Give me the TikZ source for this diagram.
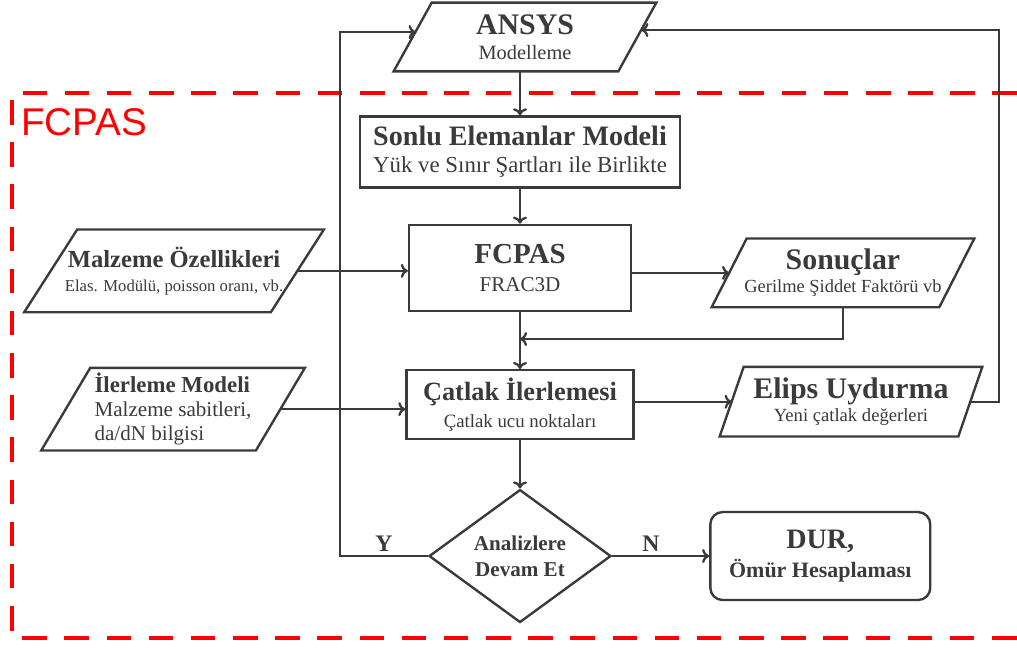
\documentclass[tikz,border=0pt]{standalone}
\usepackage{fontspec}
\setmainfont{Liberation Serif}
\newfontfamily\labelfont{Liberation Sans}
\usetikzlibrary{positioning, arrows.meta, shapes.geometric}
\usetikzlibrary{calc}

\definecolor{ink}{HTML}{3A3A3A}
\definecolor{dashred}{HTML}{FF0000}

\begin{document}
\begin{tikzpicture}[
    x=0.02cm, y=-0.02cm,
    box/.style={rectangle, draw=ink, line width=1.35pt, text=ink, align=center, inner sep=1pt},
    io/.style={rectangle, text=ink, align=center, inner sep=1pt},
    ioline/.style={draw=ink, line width=1.35pt, line join=miter},
    decision/.style={diamond, draw=ink, line width=1.35pt, text=ink, align=center, inner sep=0pt, font=\bfseries\fontsize{12}{14.8}\selectfont},
    arrow/.style={-{To[length=4pt, width=8pt]}, draw=ink, line width=1.3pt},
    yn/.style={text=ink, font=\bfseries\fontsize{13.5}{15}\selectfont, inner sep=2pt}
  ]
    \useasboundingbox (0,0) rectangle (1017,648);

    % dashed frame of the FCPAS part
    \draw[dashred, line width=2.8pt, dash pattern=on 14pt off 10pt] (1017,93) -- (12,93) -- (12,638) -- (1017,638);
    \node[text=dashred, font=\labelfont\fontsize{22}{26}\selectfont, anchor=west, inner sep=0pt] (fcpaslabel) at (21,122) {FCPAS};

    % main column
    \node[io, minimum width=4.48cm, minimum height=1.36cm, font=\fontsize{11.6}{14}\selectfont] (ansys) at (525,37)
        {{\fontsize{17}{19}\selectfont\bfseries ANSYS}\\Modelleme};
    \node[box, minimum width=6.4cm, minimum height=1.42cm, font=\fontsize{13}{15.5}\selectfont, below=0.88cm of ansys, xshift=-0.1cm] (sonlu)
        {{\fontsize{16}{18}\selectfont\bfseries Sonlu Elemanlar Modeli}\\Yük ve Sınır Şartları ile Birlikte};
    \node[box, minimum width=4.44cm, minimum height=1.72cm, font=\fontsize{12}{16}\selectfont, below=0.70cm of sonlu] (fcpas)
        {{\fontsize{16.5}{18}\selectfont\bfseries FCPAS}\\FRAC3D};
    \node[box, minimum width=4.54cm, minimum height=1.38cm, font=\fontsize{10.7}{14.8}\selectfont, below=1.14cm of fcpas] (catlak)
        {{\fontsize{15}{17}\selectfont\bfseries Çatlak İlerlemesi}\\Çatlak ucu noktaları};
    \node[decision, minimum width=3.64cm, minimum height=2.56cm, below=0.96cm of catlak] (dec) {Analizlere\\Devam Et};
    \node[box, rounded corners=7pt, minimum width=4.4cm, minimum height=1.76cm, font=\bfseries\fontsize{12.5}{16.5}\selectfont, right=1.94cm of dec] (dur)
        {{\fontsize{16}{18}\selectfont DUR,}\\Ömür Hesaplaması};

    % inputs on the left
    \node[io, minimum width=4.92cm, minimum height=1.64cm, font=\fontsize{9.5}{14}\selectfont, left=2.21cm of fcpas, yshift=-0.06cm] (malzeme)
        {{\fontsize{14}{16}\selectfont\bfseries Malzeme Özellikleri}\\Elas. Modülü, poisson oranı, vb.};
    \node[io, minimum width=4.28cm, minimum height=1.64cm, align=left, font=\fontsize{12}{13.7}\selectfont, left=2.5cm of catlak, yshift=-0.09cm] (ilerleme)
        {{\fontsize{13}{15}\selectfont\bfseries İlerleme Modeli}\\Malzeme sabitleri,\\da/dN bilgisi};

    % outputs on the right
    \node[io, minimum width=4.54cm, minimum height=1.36cm, font=\fontsize{10.5}{13}\selectfont, right=1.94cm of fcpas, yshift=-0.1cm] (sonuclar)
        {{\fontsize{17}{19}\selectfont\bfseries Sonuçlar}\\Gerilme Şiddet Faktörü vb};
    \node[io, minimum width=4.76cm, minimum height=1.38cm, font=\fontsize{10.6}{13}\selectfont, right=1.94cm of catlak, yshift=0.06cm] (elips)
        {{\fontsize{17}{19}\selectfont\bfseries Elips Uydurma}\\Yeni çatlak değerleri};

    % slanted outlines of the data nodes
    \foreach \n/\s in {ansys/38, malzeme/53, ilerleme/49, sonuclar/35, elips/24}
        \draw[ioline] ($(\n.south west)+(-\s/2,0)$) -- ($(\n.north west)+(\s/2,0)$)
            -- ($(\n.north east)+(\s/2,0)$) -- ($(\n.south east)+(-\s/2,0)$) -- cycle;

    % connectors
    \draw[arrow] (ansys.south -| sonlu.north) -- (sonlu.north);
    \draw[arrow] (sonlu) -- (fcpas);
    \draw[arrow] (fcpas) -- (catlak);
    \draw[arrow] (catlak) -- (dec);
    \draw[arrow] (malzeme.east) -- (malzeme.east -| fcpas.west);
    \draw[arrow] (ilerleme.east) -- (ilerleme.east -| catlak.west);
    \draw[arrow] (fcpas.east |- sonuclar.west) -- (sonuclar.west);
    \draw[arrow] (catlak.east |- elips.west) -- (elips.west);
    \coordinate[below=0.54cm of fcpas] (merge);
    \draw[arrow] (sonuclar.south) |- (merge);
    \draw[arrow] (dec.east) -- node[yn, above, pos=0.4] {N} (dur.west);

    % loops back to ANSYS
    \coordinate (rloop) at (999,0);
    \coordinate (lloop) at (340,0);
    \coordinate (ansysright) at ($(ansys.east)+(4,-7)$);
    \coordinate (ansysleft) at ($(ansys.west)+(3,-5)$);
    \draw[arrow] (elips.east) -| (rloop |- ansysright) -- (ansysright);
    \draw[arrow] (dec.west) -| node[yn, above, pos=0.25] {Y} (lloop |- ansysleft) -- (ansysleft);
\end{tikzpicture}
\end{document}
